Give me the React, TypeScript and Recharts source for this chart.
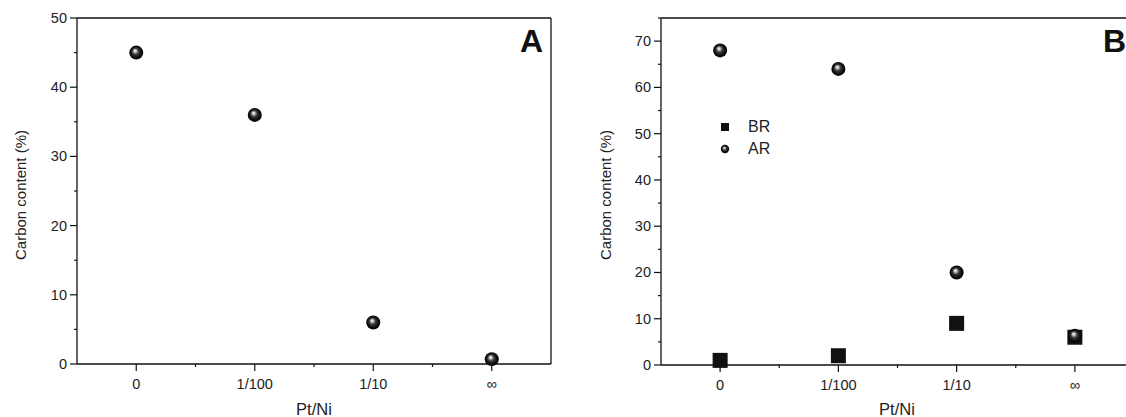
import React from 'react';
import { ScatterChart, Scatter, XAxis, YAxis } from 'recharts';

const categories = ['0', '1/100', '1/10', '\u221E'];
const carbonA = [45, 36, 6, 0.7];
const carbonBR = [1, 2, 9, 6];
const carbonAR = [68, 64, 20, 6.3];
const seriesNamesB = ['BR', 'AR'];
const yTicksA = [0, 5, 10, 15, 20, 25, 30, 35, 40, 45, 50];
const yTicksB = [0, 5, 10, 15, 20, 25, 30, 35, 40, 45, 50, 55, 60, 65, 70, 75];
const xTicks = [0, 0.5, 1, 1.5, 2, 2.5, 3];

const FONT = '"Liberation Sans", Arial, Helvetica, sans-serif';
const AX = '#111';

const toPts = (vals: number[]) => vals.map((y, i) => ({ x: i, y }));

const BottomTick = (p: any) => {
  const { x, y, payload } = p;
  const v = payload.value;
  const major = Number.isInteger(v);
  return (
    <g>
      <line x1={x} x2={x} y1={y} y2={y + (major ? 7 : 3)} stroke={AX} strokeWidth={1.2} />
      {major && (
        <text x={x} y={y + 20} textAnchor="middle" dominantBaseline="central" fontSize={14.5} fill="#222" fontFamily={FONT}>
          {categories[v]}
        </text>
      )}
    </g>
  );
};

const LeftTick = (p: any) => {
  const { x, y, payload } = p;
  const v = payload.value;
  const major = v % 10 === 0;
  return (
    <g>
      <line x1={x} x2={x - (major ? 7 : 3)} y1={y} y2={y} stroke={AX} strokeWidth={1.2} />
      {major && (
        <text x={x - 10} y={y} textAnchor="end" dominantBaseline="central" fontSize={14.5} fill="#222" fontFamily={FONT}>
          {v}
        </text>
      )}
    </g>
  );
};

const RightTick = (p: any) => {
  const { x, y } = p;
  return <line x1={x} x2={x - 3} y1={y} y2={y} stroke={AX} strokeWidth={1} />;
};

const TopTick = (p: any) => {
  const { x, y } = p;
  return <line x1={x} x2={x} y1={y} y2={y + 3} stroke={AX} strokeWidth={1} />;
};

const Ball = (p: any) => {
  if (p.cx == null || p.cy == null) return null;
  return <circle cx={p.cx} cy={p.cy} r={7} fill="url(#ballGrad)" />;
};

const Square = (p: any) => {
  if (p.cx == null || p.cy == null) return null;
  return <rect x={p.cx - 7.5} y={p.cy - 7.5} width={15} height={15} fill="#111" />;
};

const axisLine = { stroke: AX, strokeWidth: 1.3 };

export default function App() {
  return (
    <div style={{ position: 'absolute', left: 0, top: 0, width: 1126, height: 417, overflow: 'hidden', background: '#fff', fontFamily: FONT }}>
      <svg width={0} height={0} style={{ position: 'absolute' }}>
        <defs>
          <radialGradient id="ballGrad" cx="50%" cy="50%" r="50%" fx="40%" fy="35%">
            <stop offset="0%" stopColor="#ffffff" />
            <stop offset="18%" stopColor="#c8c8c8" />
            <stop offset="45%" stopColor="#3a3a3a" />
            <stop offset="75%" stopColor="#111111" />
            <stop offset="100%" stopColor="#000000" />
          </radialGradient>
        </defs>
      </svg>

      {/* Panel A */}
      <div style={{ position: 'absolute', left: 0, top: 0 }}>
        <ScatterChart width={600} height={417} margin={{ top: 8, right: 39, bottom: 23, left: 17 }}>
          <XAxis xAxisId="b" dataKey="x" type="number" domain={[-0.5, 3.5]} ticks={xTicks} interval={0}
            tick={<BottomTick />} tickLine={false} tickSize={0} tickMargin={0} axisLine={axisLine} height={30} />
          <XAxis xAxisId="t" orientation="top" type="number" domain={[-0.5, 3.5]} ticks={xTicks} interval={0}
            tick={<TopTick />} tickLine={false} tickSize={0} tickMargin={0} axisLine={axisLine} height={10} />
          <YAxis yAxisId="l" dataKey="y" type="number" domain={[0, 50]} ticks={yTicksA} interval={0}
            tick={<LeftTick />} tickLine={false} tickSize={0} tickMargin={0} axisLine={axisLine} width={60} />
          <YAxis yAxisId="r" orientation="right" type="number" domain={[0, 50]} ticks={yTicksA} interval={0}
            tick={<RightTick />} tickLine={false} tickSize={0} tickMargin={0} axisLine={axisLine} width={10} />
          <Scatter xAxisId="b" yAxisId="l" data={toPts(carbonA)} shape={<Ball />} isAnimationActive={false} />
        </ScatterChart>
      </div>

      {/* Panel B */}
      <div style={{ position: 'absolute', left: 600, top: 0 }}>
        <ScatterChart width={560} height={417} margin={{ top: 8, right: 16, bottom: 22, left: 11 }}>
          <XAxis xAxisId="b" dataKey="x" type="number" domain={[-0.5, 3.5]} ticks={xTicks} interval={0}
            tick={<BottomTick />} tickLine={false} tickSize={0} tickMargin={0} axisLine={axisLine} height={30} />
          <XAxis xAxisId="t" orientation="top" type="number" domain={[-0.5, 3.5]} ticks={xTicks} interval={0}
            tick={<TopTick />} tickLine={false} tickSize={0} tickMargin={0} axisLine={axisLine} height={10} />
          <YAxis yAxisId="l" dataKey="y" type="number" domain={[0, 75]} ticks={yTicksB} interval={0}
            tick={<LeftTick />} tickLine={false} tickSize={0} tickMargin={0} axisLine={axisLine} width={50} />
          <YAxis yAxisId="r" orientation="right" type="number" domain={[0, 75]} ticks={yTicksB} interval={0}
            tick={<RightTick />} tickLine={false} tickSize={0} tickMargin={0} axisLine={axisLine} width={10} />
          <Scatter name={seriesNamesB[0]} xAxisId="b" yAxisId="l" data={toPts(carbonBR)} shape={<Square />} isAnimationActive={false} />
          <Scatter name={seriesNamesB[1]} xAxisId="b" yAxisId="l" data={toPts(carbonAR)} shape={<Ball />} isAnimationActive={false} />
        </ScatterChart>
      </div>

      {/* Legend for panel B */}
      <div style={{ position: 'absolute', left: 720, top: 116, fontSize: 16, color: '#222', lineHeight: '22px' }}>
        <div style={{ display: 'flex', alignItems: 'center' }}>
          <svg width={10} height={10} style={{ marginRight: 18 }}>
            <rect x={1} y={1} width={8} height={8} fill="#111" />
          </svg>
          <span>{seriesNamesB[0]}</span>
        </div>
        <div style={{ display: 'flex', alignItems: 'center' }}>
          <svg width={10} height={10} style={{ marginRight: 18 }}>
            <circle cx={5} cy={5} r={4.2} fill="url(#ballGrad)" />
          </svg>
          <span>{seriesNamesB[1]}</span>
        </div>
      </div>

      {/* Axis titles and panel letters */}
      <div style={{ position: 'absolute', left: 20, top: 195, transform: 'translate(-50%, -50%) rotate(-90deg)', whiteSpace: 'nowrap', fontSize: 15, color: '#222' }}>
        Carbon content (%)
      </div>
      <div style={{ position: 'absolute', left: 605, top: 195, transform: 'translate(-50%, -50%) rotate(-90deg)', whiteSpace: 'nowrap', fontSize: 15, color: '#222' }}>
        Carbon content (%)
      </div>
      <div style={{ position: 'absolute', left: 314, top: 409, transform: 'translate(-50%, -50%)', whiteSpace: 'nowrap', fontSize: 16.5, color: '#222' }}>
        Pt/Ni
      </div>
      <div style={{ position: 'absolute', left: 897, top: 409, transform: 'translate(-50%, -50%)', whiteSpace: 'nowrap', fontSize: 16.5, color: '#222' }}>
        Pt/Ni
      </div>
      <div style={{ position: 'absolute', left: 520, top: 21, fontSize: 32, fontWeight: 'bold', color: '#111', lineHeight: '40px' }}>A</div>
      <div style={{ position: 'absolute', left: 1103, top: 21, fontSize: 32, fontWeight: 'bold', color: '#111', lineHeight: '40px' }}>B</div>
    </div>
  );
}
